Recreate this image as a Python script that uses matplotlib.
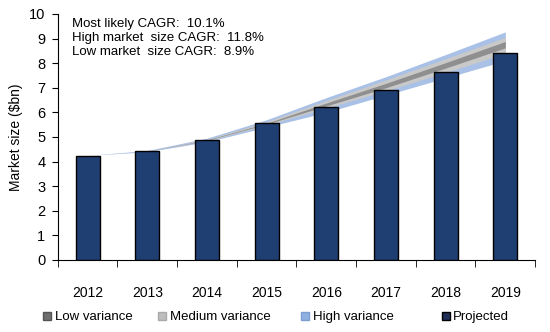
import matplotlib.pyplot as plt
from matplotlib.lines import Line2D
import numpy as np

plt.rcParams['font.family'] = ['Liberation Sans', 'DejaVu Sans']

years = ['2012', '2013', '2014', '2015', '2016', '2017', '2018', '2019']
market = [4.23, 4.43, 4.88, 5.57, 6.22, 6.9, 7.64, 8.41]

# variance bands (upper / lower edges)
high_hi = [4.25, 4.45, 4.95, 5.7, 6.6, 7.45, 8.35, 9.27]
high_lo = [4.25, 4.40, 4.80, 5.4, 6.0, 6.70, 7.40, 8.10]
med_hi = [4.25, 4.43, 4.90, 5.62, 6.48, 7.32, 8.18, 9.05]
med_lo = [4.25, 4.42, 4.84, 5.48, 6.18, 6.88, 7.62, 8.40]
low_hi = [4.25, 4.42, 4.88, 5.56, 6.38, 7.18, 8.02, 8.88]
low_lo = [4.25, 4.42, 4.86, 5.52, 6.26, 7.00, 7.80, 8.62]

cagr_lines = ['Most likely CAGR:  10.1%',
              'High market  size CAGR:  11.8%',
              'Low market  size CAGR:  8.9%']

fig = plt.figure(figsize=(5.5, 3.32), dpi=100)
ax = fig.add_axes([0.105, 0.217, 0.868, 0.741])

x = np.arange(len(years))
ax.fill_between(x, high_lo, high_hi, color='#a9c1e6', lw=0, zorder=1)
ax.fill_between(x, med_lo, med_hi, color='#c9c9c9', lw=0, zorder=2)
ax.fill_between(x, low_lo, low_hi, color='#8f8f8f', lw=0, zorder=3)
ax.bar(x, market, width=0.4, color='#1f3f73', edgecolor='black', lw=1, zorder=4)

ax.set_xlim(-0.5, 7.5)
ax.set_ylim(0, 10)
ax.set_yticks(range(11))
ax.set_xticks(x)
ax.set_xticklabels(years)
ax.set_xticks(np.arange(-0.5, 8, 1), minor=True)
ax.tick_params(axis='x', which='major', length=0, pad=19, labelsize=10)
ax.tick_params(axis='x', which='minor', length=5, direction='out')
ax.tick_params(axis='y', length=4, pad=5, labelsize=10.5)
for s in ['top', 'right']:
    ax.spines[s].set_visible(False)
ax.set_ylabel('Market size ($bn)', fontsize=10, labelpad=4)

ax.text(0.03, 0.985, '\n'.join(cagr_lines), transform=ax.transAxes,
        va='top', ha='left', fontsize=9.5, linespacing=1.25)

def sq(face, edge, label):
    return Line2D([], [], ls='none', marker='s', markersize=6,
                  markerfacecolor=face, markeredgecolor=edge, label=label)

handles = [sq('#6f6f6f', '#555555', 'Low variance'),
           sq('#bdbdbd', '#aaaaaa', 'Medium variance'),
           sq('#8fb0e0', '#7d9fd0', 'High variance'),
           sq('#1f2f55', 'black', 'Projected')]
leg_x = [0.080, 0.289, 0.549, 0.805]
for h, lx in zip(handles, leg_x):
    fig.legend(handles=[h], loc='center left', bbox_to_anchor=(lx, 0.045),
               frameon=False, fontsize=9.5, handlelength=0.5,
               handletextpad=0.3, borderpad=0, borderaxespad=0)

fig.savefig('out.png', dpi=100)
